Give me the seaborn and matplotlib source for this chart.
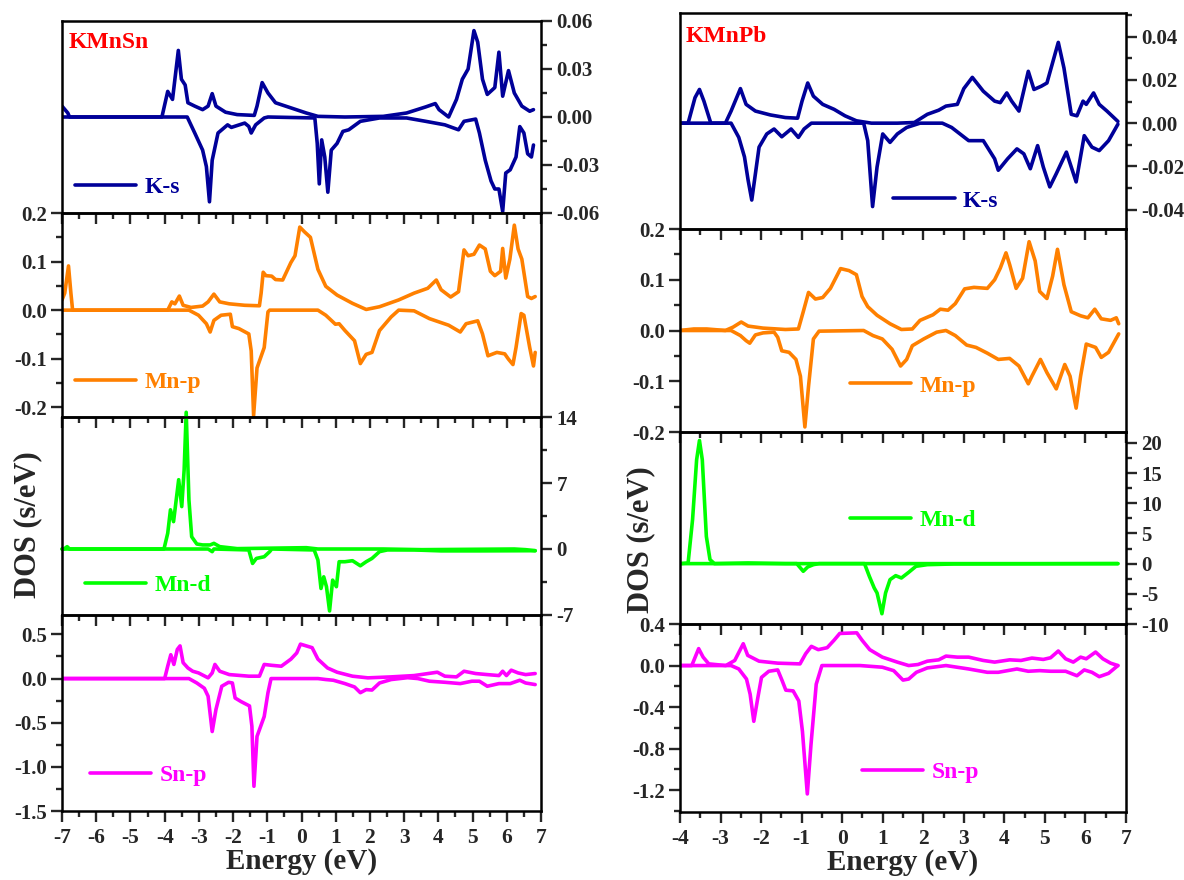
import matplotlib
matplotlib.use("Agg")
import seaborn as sns
import matplotlib.pyplot as plt
from matplotlib.ticker import MultipleLocator, FixedLocator, FormatStrFormatter

# ---- KMnSn (energy eV, DOS) spin up / spin down ----
sn_ks_up = [(-7.0, 0.0068), (-6.83, 0.0025), (-6.78, 0.0), (-4.08, 0.0), (-3.91, 0.016), (-3.77, 0.011),
            (-3.60, 0.0416), (-3.51, 0.0236), (-3.40, 0.020), (-3.32, 0.0089), (-3.12, 0.0068), (-2.89, 0.0046),
            (-2.73, 0.0068), (-2.61, 0.0146), (-2.50, 0.0068), (-2.22, 0.003), (-1.88, 0.0015), (-1.38, 0.001),
            (-1.30, 0.0068), (-1.15, 0.0215), (-0.98, 0.015), (-0.76, 0.0089), (-0.31, 0.0057), (0.14, 0.0025),
            (0.48, 0.0004), (1.27, 0.0), (2.39, 0.0004), (3.07, 0.0025), (3.63, 0.0063), (3.91, 0.0084),
            (4.02, 0.0046), (4.30, 0.0), (4.53, 0.011), (4.70, 0.0236), (4.87, 0.030), (5.04, 0.054),
            (5.15, 0.0468), (5.29, 0.0236), (5.43, 0.0141), (5.65, 0.0184), (5.77, 0.0405), (5.88, 0.013),
            (6.05, 0.029), (6.22, 0.015), (6.44, 0.0068), (6.67, 0.0036), (6.78, 0.0046)]
sn_ks_dn = [(-7.0, 0.0), (-3.34, 0.0), (-3.12, -0.010), (-2.89, -0.0207), (-2.78, -0.031), (-2.69, -0.053),
            (-2.61, -0.027), (-2.44, -0.010), (-2.16, -0.0049), (-2.05, -0.0065), (-1.66, -0.0038),
            (-1.54, -0.0059), (-1.47, -0.010), (-1.34, -0.0049), (-1.09, -0.0006), (-0.98, 0.0), (0.39, -0.0006),
            (0.46, -0.0165), (0.52, -0.0418), (0.59, -0.0143), (0.68, -0.025), (0.77, -0.047), (0.87, -0.0207),
            (1.04, -0.0165), (1.21, -0.009), (1.38, -0.008), (1.72, -0.0027), (2.28, -0.0006), (3.07, -0.0006),
            (3.63, -0.0027), (4.19, -0.0049), (4.59, -0.008), (4.75, -0.0027), (5.09, -0.0013), (5.20, -0.010),
            (5.37, -0.027), (5.54, -0.040), (5.65, -0.045), (5.77, -0.045), (5.88, -0.059), (5.97, -0.035),
            (6.10, -0.033), (6.27, -0.025), (6.38, -0.006), (6.50, -0.010), (6.61, -0.023), (6.72, -0.025),
            (6.78, -0.0175)]
sn_mnp_up = [(-7.0, 0.021), (-6.92, 0.035), (-6.81, 0.091), (-6.74, 0.035), (-6.69, 0.0), (-3.91, 0.0),
             (-3.79, 0.017), (-3.70, 0.013), (-3.57, 0.029), (-3.46, 0.010), (-3.23, 0.0056), (-2.89, 0.0084),
             (-2.73, 0.017), (-2.56, 0.033), (-2.39, 0.017), (-2.11, 0.013), (-1.66, 0.010), (-1.23, 0.009),
             (-1.18, 0.035), (-1.12, 0.078), (-1.04, 0.071), (-0.87, 0.070), (-0.76, 0.063), (-0.55, 0.062),
             (-0.31, 0.098), (-0.19, 0.112), (-0.05, 0.171), (0.09, 0.161), (0.26, 0.150), (0.48, 0.084),
             (0.71, 0.049), (1.04, 0.031), (1.49, 0.014), (1.89, 0.0014), (2.28, 0.007), (2.84, 0.021),
             (3.29, 0.035), (3.69, 0.045), (3.94, 0.062), (4.08, 0.042), (4.36, 0.027), (4.59, 0.038),
             (4.75, 0.124), (4.87, 0.112), (5.04, 0.115), (5.20, 0.134), (5.37, 0.126), (5.52, 0.080),
             (5.65, 0.071), (5.82, 0.080), (5.88, 0.127), (5.97, 0.066), (6.09, 0.105), (6.22, 0.175),
             (6.33, 0.126), (6.44, 0.105), (6.61, 0.028), (6.72, 0.024), (6.83, 0.028)]
sn_mnp_dn = [(-7.0, 0.0), (-3.29, 0.0), (-3.01, -0.0105), (-2.78, -0.028), (-2.67, -0.045), (-2.56, -0.021),
             (-2.35, -0.0105), (-2.08, -0.0084), (-2.02, -0.034), (-1.83, -0.038), (-1.54, -0.049),
             (-1.47, -0.084), (-1.40, -0.217), (-1.30, -0.119), (-1.09, -0.077), (-0.98, -0.0035), (-0.93, 0.0),
             (0.48, 0.0), (0.71, -0.0105), (0.87, -0.021), (0.99, -0.029), (1.10, -0.028), (1.27, -0.042),
             (1.55, -0.063), (1.72, -0.110), (1.89, -0.091), (2.06, -0.087), (2.28, -0.042), (2.62, -0.014),
             (2.84, 0.0), (3.29, -0.0014), (3.74, -0.0175), (4.30, -0.031), (4.64, -0.045), (4.81, -0.028),
             (5.15, -0.022), (5.29, -0.049), (5.45, -0.094), (5.71, -0.087), (5.94, -0.090), (6.05, -0.101),
             (6.18, -0.112), (6.27, -0.077), (6.42, -0.007), (6.50, -0.0105), (6.67, -0.077), (6.78, -0.115),
             (6.83, -0.087)]
sn_mnd_up = [(-7.0, 0.0), (-6.94, 0.0), (-6.85, 0.25), (-6.78, 0.0), (-4.02, 0.0), (-3.91, 1.67), (-3.83, 4.16),
             (-3.74, 2.9), (-3.59, 7.35), (-3.50, 4.5), (-3.43, 8.4), (-3.37, 14.5), (-3.29, 5.2), (-3.21, 1.3),
             (-3.06, 0.53), (-2.89, 0.43), (-2.67, 0.43), (-2.56, 0.6), (-2.39, 0.25), (-1.88, 0.04),
             (0.14, 0.14), (0.48, 0.0), (2.39, 0.0), (3.52, -0.07), (6.22, 0.0), (6.55, -0.07), (6.83, -0.18)]
sn_mnd_dn = [(-7.0, 0.0), (-2.73, 0.0), (-2.61, -0.28), (-2.56, 0.0), (-1.54, -0.1), (-1.43, -1.53),
             (-1.32, -1.0), (-1.09, -0.82), (-0.93, -0.28), (-0.87, 0.0), (0.37, -0.1), (0.48, -1.17),
             (0.57, -4.19), (0.65, -2.95), (0.73, -4.0), (0.82, -6.57), (0.91, -3.3), (1.02, -4.0), (1.10, -1.35),
             (1.27, -1.35), (1.49, -1.24), (1.72, -1.78), (1.89, -1.35), (2.06, -1.0), (2.28, -0.28),
             (2.51, -0.1), (3.29, -0.1), (4.08, -0.2), (5.20, -0.2), (6.83, -0.18)]
sn_snp_up = [(-7.0, 0.0), (-4.0, 0.0), (-3.91, 0.14), (-3.82, 0.27), (-3.73, 0.16), (-3.63, 0.33), (-3.55, 0.37),
             (-3.46, 0.18), (-3.32, 0.12), (-3.18, 0.083), (-3.01, 0.064), (-2.73, 0.008), (-2.61, 0.064),
             (-2.53, 0.16), (-2.39, 0.083), (-2.11, 0.045), (-1.54, 0.027), (-1.23, 0.027), (-1.09, 0.16),
             (-0.87, 0.15), (-0.59, 0.14), (-0.31, 0.22), (-0.14, 0.29), (-0.03, 0.39), (0.14, 0.37), (0.31, 0.35),
             (0.48, 0.22), (0.76, 0.12), (1.04, 0.072), (1.49, 0.027), (1.94, 0.008), (2.62, 0.019),
             (3.29, 0.034), (3.97, 0.072), (4.19, 0.027), (4.53, 0.019), (4.75, 0.083), (5.09, 0.057),
             (5.43, 0.045), (5.77, 0.034), (5.88, 0.083), (5.99, 0.034), (6.13, 0.095), (6.33, 0.064),
             (6.55, 0.045), (6.83, 0.057)]
sn_snp_dn = [(-7.0, 0.0), (-3.29, 0.0), (-3.06, -0.05), (-2.84, -0.11), (-2.73, -0.20), (-2.61, -0.60),
             (-2.50, -0.35), (-2.33, -0.087), (-2.13, -0.042), (-2.02, -0.05), (-1.94, -0.22), (-1.77, -0.26),
             (-1.52, -0.31), (-1.45, -0.54), (-1.39, -1.22), (-1.30, -0.655), (-1.09, -0.43), (-0.98, -0.16),
             (-0.89, 0.0), (0.48, 0.0), (0.71, -0.011), (0.93, -0.019), (1.27, -0.057), (1.55, -0.095),
             (1.72, -0.16), (1.89, -0.125), (2.06, -0.13), (2.28, -0.05), (2.62, -0.011), (3.1, 0.01),
             (3.4, 0.0), (3.74, -0.03), (4.19, -0.042), (4.64, -0.057), (4.98, -0.03), (5.20, -0.03),
             (5.43, -0.087), (5.77, -0.057), (6.10, -0.057), (6.38, -0.019), (6.55, -0.05), (6.83, -0.068)]

# ---- KMnPb ----
pb_ks_up = [(-4.0, 0.0), (-3.80, 0.0), (-3.63, 0.0118), (-3.52, 0.0156), (-3.41, 0.0102), (-3.24, 0.0),
            (-2.88, 0.0), (-2.74, 0.0056), (-2.51, 0.016), (-2.37, 0.0087), (-2.14, 0.0056), (-1.77, 0.0038),
            (-1.40, 0.0026), (-1.10, 0.0023), (-0.99, 0.0102), (-0.85, 0.0186), (-0.71, 0.0125), (-0.48, 0.0087),
            (-0.20, 0.0064), (0.07, 0.0034), (0.35, 0.0011), (0.72, 0.0), (1.36, 0.0), (1.78, 0.0003),
            (2.10, 0.0041), (2.38, 0.006), (2.56, 0.0079), (2.84, 0.0087), (3.00, 0.016), (3.21, 0.0212),
            (3.48, 0.0148), (3.76, 0.0102), (3.90, 0.0095), (4.06, 0.014), (4.18, 0.0102), (4.36, 0.0056),
            (4.59, 0.024), (4.73, 0.0156), (4.91, 0.0171), (5.05, 0.0186), (5.33, 0.0374), (5.47, 0.0255),
            (5.65, 0.0041), (5.79, 0.0034), (5.94, 0.0102), (6.02, 0.0087), (6.20, 0.014), (6.34, 0.0087),
            (6.53, 0.0056), (6.80, 0.0008)]
pb_ks_dn = [(-4.0, 0.0), (-2.74, 0.0), (-2.55, -0.0066), (-2.41, -0.0156), (-2.32, -0.0264), (-2.23, -0.0356),
            (-2.14, -0.0234), (-2.05, -0.0111), (-1.86, -0.005), (-1.68, -0.0027), (-1.49, -0.0063),
            (-1.26, -0.0027), (-1.08, -0.0066), (-0.94, -0.0027), (-0.76, 0.0), (0.53, 0.0), (0.63, -0.0081),
            (0.75, -0.0386), (0.86, -0.0203), (1.00, -0.005), (1.18, -0.0089), (1.36, -0.005), (1.59, -0.002),
            (1.92, 0.0), (2.47, 0.0), (2.70, -0.002), (3.12, -0.0081), (3.48, -0.0081), (3.76, -0.0165),
            (3.85, -0.0218), (4.08, -0.0165), (4.31, -0.0119), (4.48, -0.0142), (4.64, -0.0211), (4.82, -0.0104),
            (4.96, -0.0203), (5.12, -0.0295), (5.28, -0.0234), (5.53, -0.0134), (5.77, -0.0272), (5.97, -0.0058),
            (6.16, -0.0111), (6.34, -0.0127), (6.57, -0.0081), (6.80, -0.0005)]
pb_mnp_up = [(-4.0, 0.0), (-3.66, 0.003), (-3.34, 0.003), (-2.88, 0.0), (-2.69, 0.0067), (-2.49, 0.0167),
             (-2.32, 0.0087), (-1.95, 0.0047), (-1.40, 0.002), (-1.08, 0.003), (-0.96, 0.037), (-0.83, 0.075),
             (-0.66, 0.062), (-0.48, 0.065), (-0.29, 0.083), (-0.04, 0.122), (0.17, 0.118), (0.35, 0.11),
             (0.49, 0.067), (0.63, 0.047), (0.86, 0.03), (1.18, 0.0133), (1.46, 0.002), (1.73, 0.003),
             (1.92, 0.02), (2.24, 0.031), (2.42, 0.042), (2.61, 0.04), (2.79, 0.053), (3.02, 0.082),
             (3.25, 0.085), (3.58, 0.083), (3.76, 0.1), (3.90, 0.123), (4.04, 0.153), (4.13, 0.13), (4.29, 0.083),
             (4.45, 0.103), (4.61, 0.175), (4.76, 0.137), (4.87, 0.077), (5.05, 0.063), (5.19, 0.107),
             (5.31, 0.16), (5.47, 0.09), (5.65, 0.037), (5.88, 0.029), (6.06, 0.025), (6.23, 0.042),
             (6.39, 0.023), (6.62, 0.02), (6.76, 0.025), (6.82, 0.0133)]
pb_mnp_dn = [(-4.0, 0.0), (-2.74, 0.0), (-2.51, -0.01), (-2.37, -0.02), (-2.28, -0.025), (-2.14, -0.0087),
             (-1.95, -0.0047), (-1.68, -0.0033), (-1.59, -0.0133), (-1.49, -0.04), (-1.31, -0.043),
             (-1.14, -0.057), (-1.03, -0.09), (-0.92, -0.19), (-0.83, -0.11), (-0.71, -0.0167), (-0.57, -0.0013),
             (0.53, 0.0), (0.76, -0.01), (0.99, -0.0167), (1.23, -0.037), (1.44, -0.07), (1.59, -0.057),
             (1.73, -0.03), (2.01, -0.0167), (2.33, -0.0033), (2.56, 0.0), (2.79, -0.01), (3.07, -0.0287),
             (3.30, -0.0333), (3.58, -0.0447), (3.85, -0.057), (4.13, -0.055), (4.36, -0.07), (4.59, -0.105),
             (4.68, -0.09), (4.89, -0.057), (5.05, -0.083), (5.28, -0.115), (5.49, -0.067), (5.62, -0.09),
             (5.77, -0.153), (5.88, -0.09), (6.02, -0.0267), (6.25, -0.0333), (6.39, -0.053), (6.57, -0.043),
             (6.82, -0.0067)]
pb_mnd_up = [(-4.0, 0.0), (-3.80, 0.11), (-3.69, 7.3), (-3.59, 17.2), (-3.52, 20.4), (-3.45, 17.2), (-3.35, 4.5),
             (-3.26, 0.66), (-3.15, 0.0), (-2.32, 0.11), (-1.40, 0.0), (6.80, 0.0)]
pb_mnd_dn = [(-4.0, 0.0), (-1.12, 0.0), (-0.96, -1.27), (-0.85, -0.55), (-0.71, -0.17), (-0.57, 0.0), (0.55, 0.0),
             (0.67, -2.1), (0.79, -4.03), (0.86, -4.86), (0.98, -8.3), (1.07, -4.86), (1.18, -2.65),
             (1.32, -1.99), (1.46, -2.38), (1.64, -1.44), (1.82, -0.44), (2.10, -0.17), (2.75, -0.06), (6.80, 0.0)]
pb_snp_up = [(-4.0, 0.0), (-3.71, 0.0), (-3.54, 0.163), (-3.43, 0.081), (-3.29, 0.016), (-2.87, 0.0),
             (-2.65, 0.049), (-2.44, 0.21), (-2.33, 0.098), (-2.05, 0.042), (-1.59, 0.023), (-1.04, 0.016),
             (-0.90, 0.114), (-0.76, 0.185), (-0.59, 0.153), (-0.37, 0.172), (-0.20, 0.244), (-0.06, 0.309),
             (0.36, 0.315), (0.49, 0.244), (0.68, 0.153), (0.99, 0.081), (1.36, 0.033), (1.64, 0.0), (1.87, 0.01),
             (2.10, 0.042), (2.38, 0.055), (2.56, 0.091), (2.84, 0.081), (3.12, 0.081), (3.48, 0.049),
             (3.76, 0.033), (4.13, 0.055), (4.41, 0.049), (4.68, 0.072), (4.96, 0.059), (5.14, 0.075),
             (5.33, 0.14), (5.51, 0.065), (5.70, 0.033), (5.88, 0.081), (6.02, 0.065), (6.25, 0.13),
             (6.43, 0.065), (6.62, 0.023), (6.80, 0.0)]
pb_snp_dn = [(-4.0, 0.0), (-2.74, 0.0), (-2.55, -0.033), (-2.36, -0.13), (-2.27, -0.276), (-2.18, -0.537),
             (-2.08, -0.309), (-1.99, -0.114), (-1.81, -0.055), (-1.59, -0.042), (-1.48, -0.146),
             (-1.39, -0.237), (-1.21, -0.244), (-1.07, -0.341), (-0.98, -0.634), (-0.86, -1.236),
             (-0.77, -0.764), (-0.64, -0.179), (-0.50, 0.0), (0.44, 0.0), (0.99, -0.016), (1.27, -0.049),
             (1.50, -0.140), (1.64, -0.130), (1.83, -0.065), (2.10, -0.023), (2.56, 0.0), (3.12, -0.033),
             (3.58, -0.065), (3.85, -0.065), (4.31, -0.033), (4.59, -0.055), (4.87, -0.049), (5.14, -0.055),
             (5.51, -0.055), (5.79, -0.098), (5.97, -0.042), (6.16, -0.065), (6.34, -0.107), (6.57, -0.075),
             (6.80, 0.0)]

orbital_names = ["K-s", "Mn-p", "Mn-d", "Sn-p"]
colors = ["#000099", "#ff8000", "#00ff00", "#ff00ff"]
compounds = ["KMnSn", "KMnPb"]

sns.set_style("ticks")
plt.rcParams["font.family"] = ["Liberation Serif", "DejaVu Serif"]
plt.rcParams["font.weight"] = "bold"
plt.rcParams["axes.unicode_minus"] = False

W, H = 1184, 880
fig = plt.figure(figsize=(W / 100, H / 100), dpi=100)


def box(l, t, r, b):
    return [l / W, 1 - b / H, (r - l) / W, (b - t) / H]


# rect, up, down, ylim, y side, y ticks, minor step, fmt, legend anchor
left_cfg = [
    ((62, 21, 541, 213), sn_ks_up, sn_ks_dn, (-0.06, 0.06), "right", [-0.06, -0.03, 0, 0.03, 0.06], 0.015, "%.2f", (0.027, 0.135)),
    ((62, 213, 541, 417), sn_mnp_up, sn_mnp_dn, (-0.22, 0.2), "left", [-0.2, -0.1, 0, 0.1, 0.2], 0.05, "%.1f", (0.027, 0.17)),
    ((62, 417, 541, 615), sn_mnd_up, sn_mnd_dn, (-7, 14), "right", [-7, 0, 7, 14], 3.5, "%d", (0.048, 0.15)),
    ((62, 615, 541, 811), sn_snp_up, sn_snp_dn, (-1.5, 0.72), "left", [-1.5, -1.0, -0.5, 0, 0.5], 0.25, "%.1f", (0.058, 0.18)),
]
right_cfg = [
    ((680, 13, 1126, 229), pb_ks_up, pb_ks_dn, (-0.049, 0.051), "right", [-0.04, -0.02, 0, 0.02, 0.04], 0.01, "%.2f", (0.478, 0.13)),
    ((680, 229, 1126, 432), pb_mnp_up, pb_mnp_dn, (-0.2, 0.2), "left", [-0.2, -0.1, 0, 0.1, 0.2], 0.05, "%.1f", (0.381, 0.227)),
    ((680, 432, 1126, 624), pb_mnd_up, pb_mnd_dn, (-10, 21.8), "right", [-10, -5, 0, 5, 10, 15, 20], 2.5, "%d", (0.381, 0.54)),
    ((680, 624, 1126, 812), pb_snp_up, pb_snp_dn, (-1.41, 0.4), "left", [-1.2, -0.8, -0.4, 0, 0.4], 0.2, "%.1f", (0.408, 0.21)),
]

for col, (cfg, xlim, name) in enumerate([(left_cfg, (-7, 7), compounds[0]), (right_cfg, (-4, 7), compounds[1])]):
    for i, (rect, up, dn, ylim, side, yt, ymin, fmt, leg) in enumerate(cfg):
        ax = fig.add_axes(box(*rect))
        ax.patch.set_alpha(0)
        c = colors[i]
        clip = not (col == 0 and i == 2)
        for k, curve in enumerate([up, dn]):
            e = [p[0] for p in curve]
            v = [p[1] for p in curve]
            sns.lineplot(x=e, y=v, ax=ax, color=c, linewidth=2.6, sort=False, estimator=None,
                         label=orbital_names[i] if k == 0 else None, legend=False)
        for ln in ax.get_lines():
            ln.set_clip_on(clip)
            ln.set_solid_joinstyle("round")
        ax.set_xlim(*xlim)
        ax.set_ylim(*ylim)
        ax.set_xlabel("")
        ax.set_ylabel("")
        for sp in ax.spines.values():
            sp.set_visible(True)
            sp.set_linewidth(1.8)
            sp.set_color("black")

        ax.xaxis.set_major_locator(MultipleLocator(1))
        ax.xaxis.set_minor_locator(MultipleLocator(0.5))
        ax.xaxis.set_major_formatter(FormatStrFormatter("%d"))
        last = i == 3
        ax.tick_params(axis="x", which="both", direction="out", bottom=True, top=False,
                       labelbottom=last, width=1.7, labelsize=15.5, pad=4)
        ax.tick_params(axis="x", which="major", length=8)
        ax.tick_params(axis="x", which="minor", length=4)

        ax.yaxis.set_major_locator(FixedLocator(yt))
        ax.yaxis.set_minor_locator(MultipleLocator(ymin))
        ax.yaxis.set_major_formatter(FormatStrFormatter(fmt))
        on_right = side == "right"
        ax.tick_params(axis="y", which="both", direction="out", left=not on_right, right=on_right,
                       labelleft=not on_right, labelright=on_right, width=1.7, labelsize=15, pad=3)
        ax.tick_params(axis="y", which="major", length=8)
        ax.tick_params(axis="y", which="minor", length=4)

        handle = ax.get_lines()[0]
        ax.legend([handle], [orbital_names[i]], loc="center left", bbox_to_anchor=leg, frameon=False,
                  prop={"weight": "bold", "size": 17}, labelcolor=c, handlelength=2.6,
                  handletextpad=0.35, borderpad=0, borderaxespad=0)

        if i == 0:
            ax.text(0.013, 0.89, name, transform=ax.transAxes, color="red", fontsize=17,
                    fontweight="bold", ha="left", va="center")
        if last:
            ax.set_xlabel("Energy (eV)", fontsize=21, fontweight="bold", labelpad=0)

fig.text(28 / W, 1 - 525 / H, "DOS (s/eV)", rotation=90, ha="center", va="center", fontsize=22, fontweight="bold")
fig.text(641 / W, 1 - 540 / H, "DOS (s/eV)", rotation=90, ha="center", va="center", fontsize=22, fontweight="bold")

fig.savefig("out.png", dpi=100, facecolor="white")
